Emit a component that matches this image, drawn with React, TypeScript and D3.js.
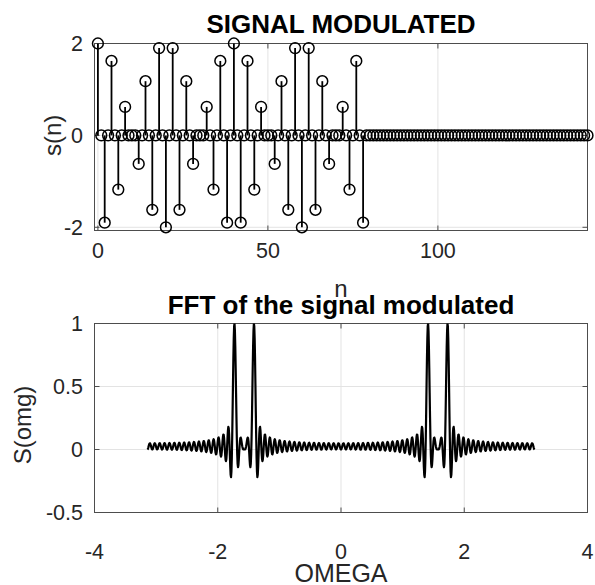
import React from "react";
import * as d3 from "d3";

// s(n) = 0 for every odd n and for n >= 80; the even samples n = 0, 2, ..., 78 are listed here.
const SAMPLE_COUNT = 145; // n = 0 .. 144
const EVEN_SAMPLE_VALUES = [
  2, -1.9, 1.62, -1.18, 0.62, 0, -0.62, 1.18, -1.62, 1.9,
  -2, 1.9, -1.62, 1.18, -0.62, 0, 0.62, -1.18, 1.62, -1.9,
  2, -1.9, 1.62, -1.18, 0.62, 0, -0.62, 1.18, -1.62, 1.9,
  -2, 1.9, -1.62, 1.18, -0.62, 0, 0.62, -1.18, 1.62, -1.9,
];

const TOP_X_TICKS = [0, 50, 100];
const TOP_Y_TICKS = [-2, 0, 2];
const BOTTOM_X_TICKS = [-4, -2, 0, 2, 4];
const BOTTOM_Y_TICKS = [-0.5, 0, 0.5, 1];
const OMEGA_POINTS = 1001;

const FONT = "'Liberation Sans', Arial, Helvetica, sans-serif";
const TICK_FONT = 21.5;
const LABEL_FONT = 24;
const TITLE_FONT = 26;
const AXIS_COLOR = "#4d4d4d";
const GRID_COLOR = "#e3e3e3";
const TEXT_COLOR = "#262626";

const samples: { n: number; v: number }[] = d3.range(SAMPLE_COUNT).map((n) => ({
  n,
  v: n % 2 === 0 && n / 2 < EVEN_SAMPLE_VALUES.length ? EVEN_SAMPLE_VALUES[n / 2] : 0,
}));

// Real part of the DTFT of s(n), scaled so that its largest value is 1.
const omegas = d3.range(OMEGA_POINTS).map((i) => -Math.PI + (2 * Math.PI * i) / (OMEGA_POINTS - 1));
const rawSpectrum = omegas.map((w) => samples.reduce((acc, s) => acc + s.v * Math.cos(w * s.n), 0));
const spectrumMax = d3.max(rawSpectrum) as number;
const spectrum = omegas.map((w, i) => ({ w, s: rawSpectrum[i] / spectrumMax }));

type Box = { left: number; right: number; top: number; bottom: number };
const TOP_BOX: Box = { left: 94.5, right: 587.5, top: 43.5, bottom: 230.5 };
const BOT_BOX: Box = { left: 94.5, right: 587.5, top: 323.5, bottom: 512.5 };

type Scale = d3.ScaleLinear<number, number>;

function Frame({ box, xs, ys, xt, yt }: { box: Box; xs: Scale; ys: Scale; xt: number[]; yt: number[] }) {
  const tl = 5;
  return (
    <g>
      <rect x={box.left} y={box.top} width={box.right - box.left} height={box.bottom - box.top} fill="none" stroke={AXIS_COLOR} strokeWidth={1} />
      {xt.map((t) => (
        <g key={"xt" + t}>
          <line x1={xs(t)} x2={xs(t)} y1={box.bottom} y2={box.bottom - tl} stroke={AXIS_COLOR} />
          <line x1={xs(t)} x2={xs(t)} y1={box.top} y2={box.top + tl} stroke={AXIS_COLOR} />
        </g>
      ))}
      {yt.map((t) => (
        <g key={"yt" + t}>
          <line x1={box.left} x2={box.left + tl} y1={ys(t)} y2={ys(t)} stroke={AXIS_COLOR} />
          <line x1={box.right} x2={box.right - tl} y1={ys(t)} y2={ys(t)} stroke={AXIS_COLOR} />
        </g>
      ))}
    </g>
  );
}

function Grid({ box, xs, ys, xt, yt }: { box: Box; xs: Scale; ys: Scale; xt: number[]; yt: number[] }) {
  return (
    <g>
      {xt.map((t) => (
        <line key={"gx" + t} x1={xs(t)} x2={xs(t)} y1={box.top} y2={box.bottom} stroke={GRID_COLOR} strokeWidth={1} />
      ))}
      {yt.map((t) => (
        <line key={"gy" + t} x1={box.left} x2={box.right} y1={ys(t)} y2={ys(t)} stroke={GRID_COLOR} strokeWidth={1} />
      ))}
    </g>
  );
}

function TickLabels({ xs, ys, xt, yt, xBase, yRight, fmt }: { xs: Scale; ys: Scale; xt: number[]; yt: number[]; xBase: number; yRight: number; fmt: (v: number) => string }) {
  return (
    <g fontFamily={FONT} fontSize={TICK_FONT} fill={TEXT_COLOR}>
      {xt.map((t) => (
        <text key={"lx" + t} x={xs(t)} y={xBase} textAnchor="middle">{fmt(t)}</text>
      ))}
      {yt.map((t) => (
        <text key={"ly" + t} x={yRight} y={ys(t) + TICK_FONT * 0.36} textAnchor="end">{fmt(t)}</text>
      ))}
    </g>
  );
}

export default function App() {
  const xTop = d3.scaleLinear().domain([-1, 144]).range([TOP_BOX.left, TOP_BOX.right]);
  const yTop = d3.scaleLinear().domain([-2.07, 2]).range([TOP_BOX.bottom, TOP_BOX.top]);
  const xBot = d3.scaleLinear().domain([-4, 4]).range([BOT_BOX.left, BOT_BOX.right]);
  const yBot = d3.scaleLinear().domain([-0.5, 1]).range([BOT_BOX.bottom, BOT_BOX.top]);

  const spectrumLine = d3
    .line<{ w: number; s: number }>()
    .x((d) => xBot(d.w))
    .y((d) => yBot(d.s));

  const fmt = (v: number) => String(v);
  const cx = (TOP_BOX.left + TOP_BOX.right) / 2;

  return (
    <svg width={595} height={585} style={{ position: "absolute", left: 0, top: 0, background: "#fff" }}>
      <defs>
        <clipPath id="spec-clip">
          <rect x={BOT_BOX.left} y={BOT_BOX.top} width={BOT_BOX.right - BOT_BOX.left} height={BOT_BOX.bottom - BOT_BOX.top} />
        </clipPath>
      </defs>
      <rect width={595} height={585} fill="#fff" />

      {/* Stem plot of s(n) */}
      <Grid box={TOP_BOX} xs={xTop} ys={yTop} xt={TOP_X_TICKS} yt={TOP_Y_TICKS} />
      <Frame box={TOP_BOX} xs={xTop} ys={yTop} xt={TOP_X_TICKS} yt={TOP_Y_TICKS} />
      <g stroke="#000" fill="none">
        {samples.map((d) => (
          <line key={"s" + d.n} x1={xTop(d.n)} x2={xTop(d.n)} y1={yTop(0)} y2={yTop(d.v)} strokeWidth={1.8} />
        ))}
        {samples.map((d) => (
          <circle key={"c" + d.n} cx={xTop(d.n)} cy={yTop(d.v)} r={5.4} strokeWidth={1.5} />
        ))}
      </g>
      <TickLabels xs={xTop} ys={yTop} xt={TOP_X_TICKS} yt={TOP_Y_TICKS} xBase={258} yRight={83} fmt={fmt} />
      <text x={cx} y={297} textAnchor="middle" fontFamily={FONT} fontSize={LABEL_FONT} fill={TEXT_COLOR}>n</text>
      <text transform={`translate(61,${yTop(0)}) rotate(-90)`} textAnchor="middle" fontFamily={FONT} fontSize={LABEL_FONT} fill={TEXT_COLOR}>s(n)</text>
      <text x={cx} y={33} textAnchor="middle" fontFamily={FONT} fontSize={TITLE_FONT} fontWeight="bold" fill="#000">SIGNAL MODULATED</text>

      {/* Spectrum */}
      <Grid box={BOT_BOX} xs={xBot} ys={yBot} xt={BOTTOM_X_TICKS} yt={BOTTOM_Y_TICKS} />
      <Frame box={BOT_BOX} xs={xBot} ys={yBot} xt={BOTTOM_X_TICKS} yt={BOTTOM_Y_TICKS} />
      <path d={spectrumLine(spectrum) || ""} fill="none" stroke="#000" strokeWidth={2.2} strokeLinejoin="round" clipPath="url(#spec-clip)" />
      <TickLabels xs={xBot} ys={yBot} xt={BOTTOM_X_TICKS} yt={BOTTOM_Y_TICKS} xBase={559} yRight={83} fmt={fmt} />
      <text x={cx} y={582} textAnchor="middle" fontFamily={FONT} fontSize={25} fill={TEXT_COLOR}>OMEGA</text>
      <text transform={`translate(31,${(BOT_BOX.top + BOT_BOX.bottom) / 2 + 7}) rotate(-90)`} textAnchor="middle" fontFamily={FONT} fontSize={LABEL_FONT} fill={TEXT_COLOR}>S(omg)</text>
      <text x={cx} y={314} textAnchor="middle" fontFamily={FONT} fontSize={TITLE_FONT} fontWeight="bold" fill="#000">FFT of the signal modulated</text>
    </svg>
  );
}
